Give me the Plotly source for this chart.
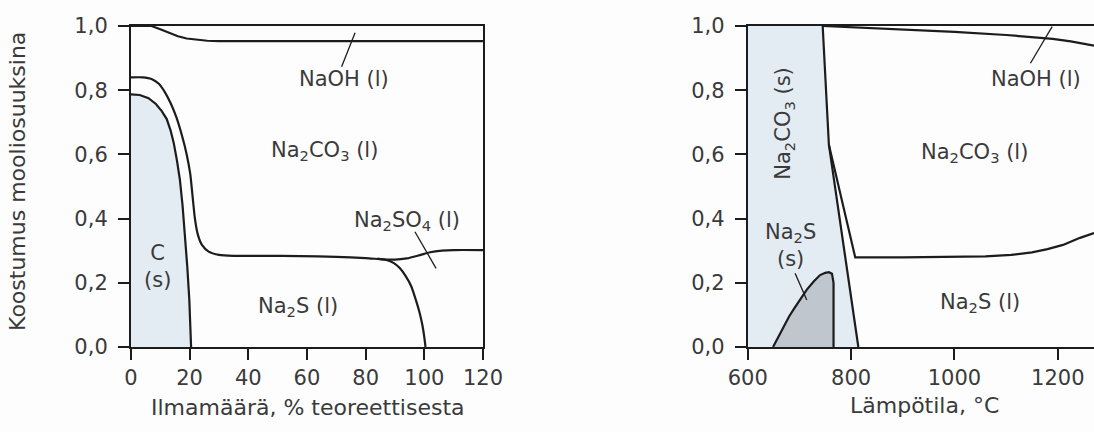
import plotly.graph_objects as go

# ---- Left panel: composition vs. air supply (% of theoretical) ----
air_ticks = [0, 20, 40, 60, 80, 100, 120]
air_tick_text = ["0", "20", "40", "60", "80", "100", "120"]

# NaOH (l) / Na2CO3 (l) boundary
naoh_air = [0, 7, 10, 13, 16, 19, 22, 26, 30, 60, 90, 120]
naoh_frac = [1.0, 1.0, 0.99, 0.978, 0.968, 0.961, 0.957, 0.954, 0.953, 0.953, 0.953, 0.953]

# Na2CO3 (l) / Na2S (l) + Na2SO4 (l) boundary
co3_air = [0, 4, 7, 9.5, 11.5, 13.5, 15.5, 17.5, 19, 20.2, 21, 21.8, 22.8, 24.2, 26.5, 30, 35,
           45, 57.6, 70, 80, 86, 90, 94, 98, 102, 106, 110, 120]
co3_frac = [0.84, 0.84, 0.835, 0.82, 0.795, 0.76, 0.715, 0.655, 0.6, 0.54, 0.47, 0.40, 0.35, 0.318,
            0.297, 0.287, 0.284, 0.284, 0.283, 0.281, 0.277, 0.273, 0.272, 0.276, 0.285, 0.295,
            0.300, 0.302, 0.302]

# Na2SO4 (l) / Na2S (l) boundary
so4_air = [84, 87, 89.5, 91.7, 93.7, 95.5, 97, 98.3, 99.3, 100.0, 100.4]
so4_frac = [0.275, 0.271, 0.262, 0.245, 0.22, 0.19, 0.15, 0.11, 0.07, 0.03, 0.0]

# C (s) boundary
carbon_air = [0, 3, 6, 8.5, 10.5, 12.2, 13.5, 14.6, 15.7, 16.7, 17.6, 18.4, 19.2, 19.9, 20.3, 20.5]
carbon_frac = [0.787, 0.785, 0.775, 0.757, 0.735, 0.71, 0.675, 0.635, 0.58, 0.52, 0.44, 0.355,
               0.25, 0.146, 0.07, 0.0]

# ---- Right panel: composition vs. temperature (°C) ----
temp_ticks = [600, 800, 1000, 1200]
temp_tick_text = ["600", "800", "1000", "1200"]

naoh_temp = [745, 900, 1000, 1100, 1150, 1190, 1225, 1250, 1270]
naoh_temp_frac = [1.0, 0.99, 0.982, 0.972, 0.966, 0.96, 0.952, 0.945, 0.939]

# right edge of the Na2CO3 (s) field
co3s_temp = [745, 757, 814]
co3s_frac = [1.0, 0.63, 0.0]

# Na2CO3 (l) / Na2S (l) boundary
co3l_temp = [757, 808, 900, 1000, 1060, 1110, 1150, 1180, 1210, 1243, 1270]
co3l_frac = [0.63, 0.279, 0.279, 0.28, 0.282, 0.287, 0.295, 0.305, 0.318, 0.34, 0.355]

# Na2S (s) field
na2s_temp = [649, 660, 670, 680, 690, 700, 714, 728, 740, 750, 757, 763, 766, 766]
na2s_frac = [0.0, 0.035, 0.065, 0.095, 0.12, 0.145, 0.178, 0.205, 0.224, 0.231, 0.233, 0.228, 0.2, 0.0]

frac_ticks = [0.0, 0.2, 0.4, 0.6, 0.8, 1.0]
frac_tick_text = ["0,0", "0,2", "0,4", "0,6", "0,8", "1,0"]

INK = "#1c1c1c"
TEXT = "#3a3a3a"
LIGHT_BLUE = "#e3ebf3"
GREY_FILL = "#c0c6cd"
FONT = "DejaVu Sans"
LW = 2.2

fig = go.Figure()

# left panel traces
fig.add_trace(go.Scatter(x=carbon_air, y=carbon_frac, mode="lines", fill="tozeroy",
                         fillcolor=LIGHT_BLUE, line=dict(color=INK, width=LW),
                         xaxis="x", yaxis="y"))
fig.add_trace(go.Scatter(x=naoh_air, y=naoh_frac, mode="lines",
                         line=dict(color=INK, width=LW), xaxis="x", yaxis="y"))
fig.add_trace(go.Scatter(x=co3_air, y=co3_frac, mode="lines",
                         line=dict(color=INK, width=LW, shape="spline", smoothing=0.6),
                         xaxis="x", yaxis="y"))
fig.add_trace(go.Scatter(x=so4_air, y=so4_frac, mode="lines",
                         line=dict(color=INK, width=LW, shape="spline", smoothing=0.6),
                         xaxis="x", yaxis="y"))

# right panel: Na2CO3 (s) field, shaded up to its right boundary
co3s_poly_x = [600, 600] + co3s_temp + [600]
co3s_poly_y = [0.0, 1.0] + co3s_frac + [0.0]
fig.add_trace(go.Scatter(x=co3s_poly_x, y=co3s_poly_y, mode="lines", fill="toself",
                         fillcolor=LIGHT_BLUE, line=dict(width=0), xaxis="x2", yaxis="y2"))
fig.add_trace(go.Scatter(x=co3s_temp, y=co3s_frac, mode="lines",
                         line=dict(color=INK, width=LW), xaxis="x2", yaxis="y2"))
fig.add_trace(go.Scatter(x=na2s_temp, y=na2s_frac, mode="lines", fill="toself",
                         fillcolor=GREY_FILL, line=dict(color=INK, width=LW),
                         xaxis="x2", yaxis="y2"))
fig.add_trace(go.Scatter(x=naoh_temp, y=naoh_temp_frac, mode="lines",
                         line=dict(color=INK, width=LW), xaxis="x2", yaxis="y2"))
fig.add_trace(go.Scatter(x=co3l_temp, y=co3l_frac, mode="lines",
                         line=dict(color=INK, width=LW), xaxis="x2", yaxis="y2"))

axis_common = dict(showgrid=False, zeroline=False, showline=True, linecolor=INK, linewidth=2,
                   ticks="outside", ticklen=11, tickwidth=1.5, tickcolor=INK, automargin=False,
                   tickfont=dict(family=FONT, size=21, color=TEXT))

fig.update_layout(
    width=1094, height=432,
    margin=dict(l=0, r=0, t=0, b=0),
    paper_bgcolor="#fdfdfd", plot_bgcolor="rgba(0,0,0,0)",
    showlegend=False,
    xaxis=dict(domain=[0.1197, 0.4415], range=[0, 120], tickvals=air_ticks,
               ticktext=air_tick_text, mirror=True, anchor="y", **axis_common),
    yaxis=dict(domain=[0.1968, 0.9398], range=[0, 1], tickvals=frac_ticks,
               ticktext=frac_tick_text, mirror=True, anchor="x", ticklabelstandoff=6,
               **axis_common),
    xaxis2=dict(domain=[0.6835, 1.0], range=[600, 1270], tickvals=temp_ticks,
                ticktext=temp_tick_text, mirror=True, anchor="y2", **axis_common),
    yaxis2=dict(domain=[0.1968, 0.9398], range=[0, 1], tickvals=frac_ticks,
                ticktext=frac_tick_text, mirror=False, anchor="x2", ticklabelstandoff=6,
                **axis_common),
)

# leader lines
leaders = [
    ("x", "y", 76.4, 0.979, 71.8, 0.873),
    ("x", "y", 96.8, 0.359, 104.0, 0.245),
    ("x2", "y2", 1189, 0.998, 1147, 0.884),
    ("x2", "y2", 691.6, 0.23, 714.2, 0.146),
]
for xr, yr, xa, ya, xb, yb in leaders:
    fig.add_shape(type="line", xref=xr, yref=yr, x0=xa, y0=ya, x1=xb, y1=yb,
                  line=dict(color=INK, width=1.3))

label_font = dict(family=FONT, size=21, color=TEXT)
labels = [
    ("x", "y", 72.6, 0.834, "NaOH (l)", 0),
    ("x", "y", 66.1, 0.612, "Na<sub>2</sub>CO<sub>3</sub> (l)", 0),
    ("x", "y", 94.0, 0.394, "Na<sub>2</sub>SO<sub>4</sub> (l)", 0),
    ("x", "y", 56.8, 0.126, "Na<sub>2</sub>S (l)", 0),
    ("x", "y", 9.0, 0.25, "C<br>(s)", 0),
    ("x2", "y2", 1157, 0.834, "NaOH (l)", 0),
    ("x2", "y2", 1039, 0.605, "Na<sub>2</sub>CO<sub>3</sub> (l)", 0),
    ("x2", "y2", 1050, 0.138, "Na<sub>2</sub>S (l)", 0),
    ("x2", "y2", 682, 0.315, "Na<sub>2</sub>S<br>(s)", 0),
    ("x2", "y2", 671, 0.697, "Na<sub>2</sub>CO<sub>3</sub> (s)", -90),
]
for xr, yr, xv, yv, txt, ang in labels:
    fig.add_annotation(xref=xr, yref=yr, x=xv, y=yv, text=txt, showarrow=False,
                       textangle=ang, font=label_font, xanchor="center", yanchor="middle")

# axis titles
title_font = dict(family=FONT, size=22, color=TEXT)
fig.add_annotation(xref="paper", yref="paper", x=0.2815, y=0.0556, text="Ilmamäärä, % teoreettisesta",
                   showarrow=False, font=title_font, xanchor="center", yanchor="middle")
fig.add_annotation(xref="paper", yref="paper", x=0.8455, y=0.0625, text="Lämpötila, °C",
                   showarrow=False, font=title_font, xanchor="center", yanchor="middle")
fig.add_annotation(xref="paper", yref="paper", x=0.0165, y=0.579, text="Koostumus mooliosuuksina",
                   showarrow=False, font=title_font, textangle=-90, xanchor="center", yanchor="middle")

fig.write_html("out.html")
